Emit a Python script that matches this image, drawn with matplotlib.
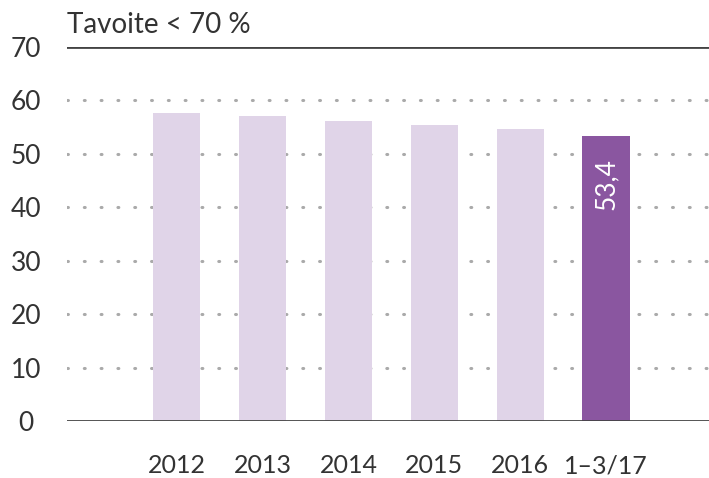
import matplotlib
matplotlib.use("Agg")
import matplotlib.pyplot as plt

categories = ["2012", "2013", "2014", "2015", "2016", "1–3/17"]
values = [57.6, 57.1, 56.1, 55.4, 54.6, 53.4]
yticks = [0, 10, 20, 30, 40, 50, 60, 70]
title = "Tavoite < 70 %"
value_label = "53,4"

plt.rcParams['font.family'] = ['Lato', 'DejaVu Sans']

fig = plt.figure(figsize=(7.09, 4.78), dpi=100)
ax = fig.add_axes([67/709, 57/478, 1 - 67/709, (421-47)/478])

light = "#e0d4e8"
dark = "#8a56a0"
colors = [light] * (len(values) - 1) + [dark]
x = list(range(len(values)))
ax.bar(x, values, width=0.55, color=colors, zorder=2)

ax.set_xlim(-1.28, len(values) - 1 + 1.2)
ax.set_ylim(0, 70)

for yv in yticks[1:-1]:
    ax.axhline(yv, color="#aaaaaa", lw=2.2, linestyle=(0, (0.3, 5.2)),
               dash_capstyle='round', zorder=1)
ax.axhline(70, color="#444444", lw=2, zorder=3)
ax.axhline(0, color="#444444", lw=2, zorder=3)

for s in ax.spines.values():
    s.set_visible(False)

ax.set_yticks(yticks)
ax.set_yticklabels([str(v) for v in yticks], fontsize=19, color="#333333", ha="center")
ax.tick_params(axis='y', length=0, pad=29.5)
ax.set_xticks(x)
ax.set_xticklabels(categories, fontsize=18, color="#333333")
ax.tick_params(axis='x', length=0, pad=24)

ax.text(0, 1.025, title, transform=ax.transAxes, fontsize=20, color="#333333",
        ha="left", va="bottom")

ax.text(x[-1], values[-1] - 4.2, value_label, rotation=90, color="white",
        fontsize=19, ha="center", va="top", zorder=4)

fig.savefig("out.png", dpi=100)
